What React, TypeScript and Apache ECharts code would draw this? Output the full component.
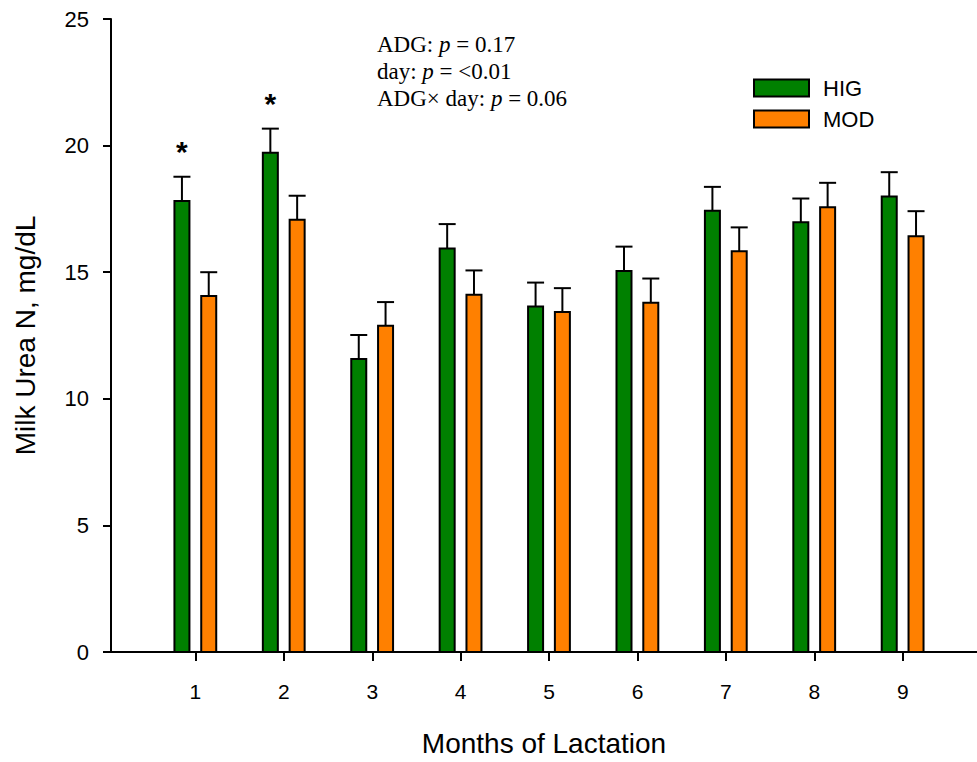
import React, { useEffect, useRef } from "react";
import * as echarts from "echarts";

const months = [1, 2, 3, 4, 5, 6, 7, 8, 9];
const higMean = [17.81, 19.72, 11.57, 15.94, 13.65, 15.05, 17.43, 16.97, 17.99];
const higSE = [0.96, 0.95, 0.95, 0.96, 0.94, 0.96, 0.94, 0.94, 0.96];
const modMean = [14.06, 17.07, 12.89, 14.11, 13.43, 13.79, 15.83, 17.57, 16.42];
const modSE = [0.94, 0.95, 0.93, 0.96, 0.94, 0.96, 0.94, 0.96, 0.99];
const higSig = ["*", "*", "", "", "", "", "", "", ""];
const modSig = ["", "", "", "", "", "", "", "", ""];
const yTicks = [0, 5, 10, 15, 20, 25];
const statLines = [
  { label: "ADG: ", p: "0.17", eq: " = " },
  { label: "day: ", p: "<0.01", eq: " = " },
  { label: "ADG\u00d7 day: ", p: "0.06", eq: " = " },
];

const FONT = "Liberation Sans, Arial, Helvetica, sans-serif";
const SERIF = "Liberation Serif, Times New Roman, serif";

function makeSeries(name: string, means: number[], ses: number[], sigs: string[], color: string, offset: number) {
  return {
    name,
    type: "custom",
    clip: false,
    itemStyle: { color, borderColor: "#000", borderWidth: 2 },
    encode: { x: 0, y: 1 },
    data: months.map((m, i) => [m, means[i], ses[i]]),
    renderItem: (params: any, api: any) => {
      const x = api.value(0);
      const v = api.value(1);
      const se = api.value(2);
      const sig = sigs[params.dataIndex];
      const base = api.coord([x, 0]);
      const top = api.coord([x, v]);
      const et = api.coord([x, v + se]);
      const cx = base[0] + offset;
      const w = 15;
      const children: any[] = [
        {
          type: "line",
          shape: { x1: cx, y1: top[1], x2: cx, y2: et[1] },
          style: { stroke: "#000", lineWidth: 2 },
        },
        {
          type: "line",
          shape: { x1: cx - 8.5, y1: et[1], x2: cx + 8.5, y2: et[1] },
          style: { stroke: "#000", lineWidth: 2 },
        },
        {
          type: "rect",
          shape: { x: cx - w / 2, y: top[1], width: w, height: base[1] - top[1] },
          style: { fill: color, stroke: "#000", lineWidth: 2 },
        },
      ];
      if (sig) {
        children.push({
          type: "text",
          x: cx,
          y: et[1] - 10,
          style: {
            text: sig,
            fill: "#000",
            font: `bold 30px ${FONT}`,
            align: "center",
            verticalAlign: "bottom",
          },
        });
      }
      return { type: "group", children };
    },
  };
}

export default function App() {
  const ref = useRef<HTMLDivElement>(null);
  useEffect(() => {
    if (!ref.current) return;
    const chart = echarts.init(ref.current, undefined, { renderer: "svg" });
    const statText = statLines
      .map((l) => `{n|${l.label}}{i|p}{n|${l.eq}${l.p}}`)
      .join("\n");
    chart.setOption({
      animation: false,
      backgroundColor: "#fff",
      grid: { left: 111, right: 0, top: 19, bottom: 107, containLabel: false },
      xAxis: {
        type: "value",
        min: 0.045,
        max: 9.84,
        name: "Months of Lactation",
        nameLocation: "middle",
        nameGap: 77,
        nameTextStyle: { fontFamily: FONT, fontSize: 28, color: "#000" },
        splitLine: { show: false },
        axisLine: { show: true, lineStyle: { color: "#000", width: 2 } },
        axisTick: {
          show: true,
          customValues: months,
          length: 9,
          lineStyle: { color: "#000", width: 2 },
        },
        axisLabel: {
          customValues: months,
          fontFamily: FONT,
          fontSize: 21,
          color: "#000",
          margin: 29,
        },
      },
      yAxis: {
        type: "value",
        min: 0,
        max: 25,
        interval: 5,
        name: "Milk Urea N, mg/dL",
        nameLocation: "middle",
        nameGap: 72,
        nameTextStyle: { fontFamily: FONT, fontSize: 28, color: "#000" },
        splitLine: { show: false },
        axisLine: { show: true, lineStyle: { color: "#000", width: 2 } },
        axisTick: { show: true, length: 8, lineStyle: { color: "#000", width: 2 } },
        axisLabel: {
          customValues: yTicks,
          fontFamily: FONT,
          fontSize: 22,
          color: "#000",
          margin: 22,
        },
      },
      legend: {
        orient: "vertical",
        left: 753,
        top: 77,
        padding: 0,
        itemWidth: 55,
        itemHeight: 17,
        itemGap: 9,
        icon: "rect",
        textStyle: { fontFamily: FONT, fontSize: 22, color: "#000", padding: [0, 0, 0, 9] },
        data: [
          { name: "HIG", itemStyle: { color: "#008000", borderColor: "#000", borderWidth: 2 } },
          { name: "MOD", itemStyle: { color: "#ff8000", borderColor: "#000", borderWidth: 2 } },
        ],
      },
      graphic: [
        {
          type: "text",
          left: 377,
          top: 31,
          style: {
            text: statText,
            lineHeight: 27,
            fill: "#000",
            rich: {
              n: { fontFamily: SERIF, fontSize: 23, color: "#000", lineHeight: 27 },
              i: { fontFamily: SERIF, fontSize: 23, fontStyle: "italic", color: "#000", lineHeight: 27 },
            },
          },
        },
      ],
      series: [
        makeSeries("HIG", higMean, higSE, higSig, "#008000", -13.5),
        makeSeries("MOD", modMean, modSE, modSig, "#ff8000", 13.3),
      ],
    });
    return () => chart.dispose();
  }, []);
  return (
    <div
      ref={ref}
      style={{ position: "absolute", left: 0, top: 0, width: 977, height: 762 }}
    />
  );
}
